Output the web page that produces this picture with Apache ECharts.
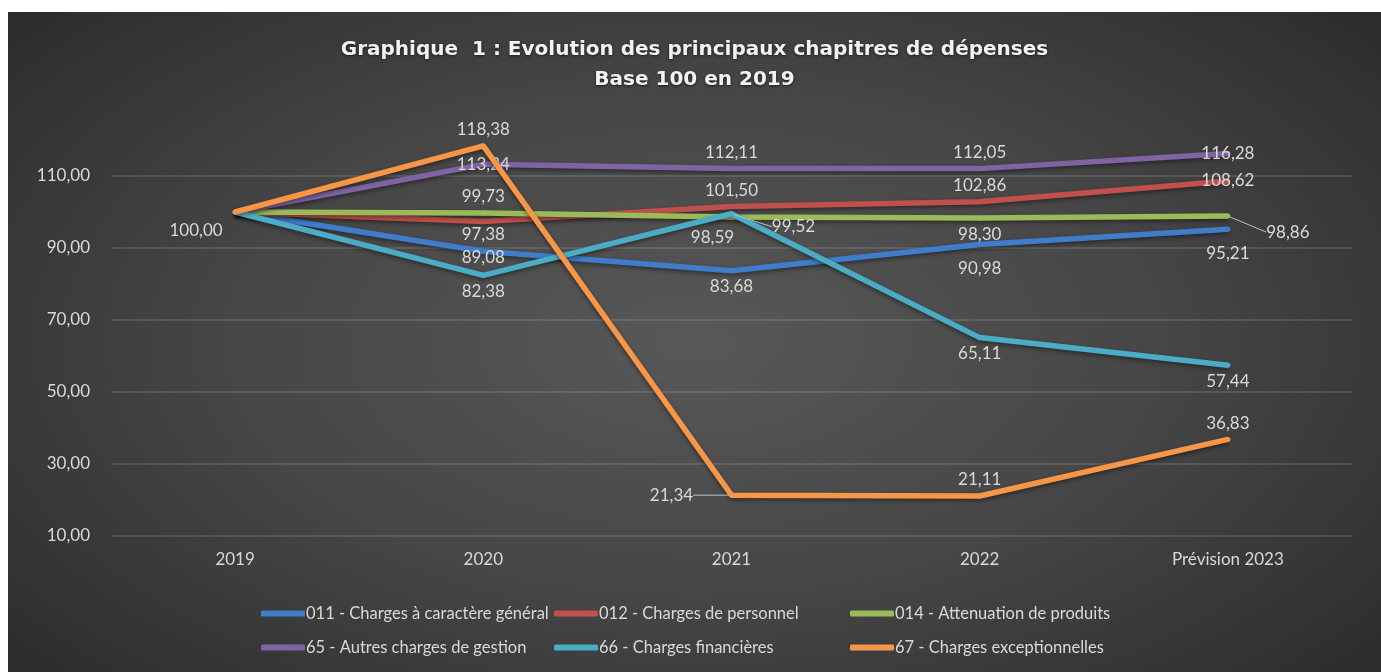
<!DOCTYPE html>
<html>
<head>
<meta charset="utf-8">
<script src="https://cdn.jsdelivr.net/npm/echarts@6/dist/echarts.min.js"></script>
<style>
  html, body { margin: 0; padding: 0; background: #ffffff; width: 1381px; height: 672px; overflow: hidden; }
  #chart {
    position: absolute; left: 8px; top: 12px; width: 1373px; height: 660px;
    background: radial-gradient(ellipse 75% 85% at 50% 50%, #585858 0%, #464646 45%, #2e2e2e 85%, #262626 100%);
  }
</style>
</head>
<body>
<div id="chart"></div>
<script>
const categories = ['2019', '2020', '2021', '2022', 'Prévision 2023'];
const seriesNames = [
  '011 - Charges à caractère général',
  '012 - Charges de personnel',
  '014 - Attenuation de produits',
  '65 - Autres charges de gestion',
  '66 - Charges financières',
  '67 - Charges exceptionnelles'
];
const s011 = [100.00, 89.08, 83.68, 90.98, 95.21];
const s012 = [100.00, 97.38, 101.50, 102.86, 108.62];
const s014 = [100.00, 99.73, 98.59, 98.30, 98.86];
const s65  = [100.00, 113.24, 112.11, 112.05, 116.28];
const s66  = [100.00, 82.38, 99.52, 65.11, 57.44];
const s67  = [100.00, 118.38, 21.34, 21.11, 36.83];
const yTicks = [10, 30, 50, 70, 90, 110];
const titleLines = ['Graphique  1 : Evolution des principaux chapitres de dépenses', 'Base 100 en 2019'];

const allValues = [s011, s012, s014, s65, s66, s67];
const colors = ['#3F7DC9', '#C0504D', '#9BBB59', '#8064A2', '#4BACC6', '#F79646'];

// label placement per series / point (null = no label)
const labelPos = [
  [null, 'inside', 'bottom', 'bottomLow', 'bottomLow'],
  [null, 'bottom', 'top', 'top', 'inside'],
  [null, 'top', 'bottom', 'bottom', 'leader'],
  [null, 'inside', 'top', 'top', 'inside'],
  [null, 'bottom', 'leader', 'bottom', 'bottom'],
  ['left', 'top', 'leader', 'top', 'top']
];
// label nudges (pixels) : key "series_point"
const labelMoves = {
  '0_1': [0, 6], '1_1': [0, -3], '2_2': [-19, 4], '5_0': [0, 19],
  '2_4': [60, 16], '4_2': [62, 13], '5_2': [-60, 0]
};

const FONT = 'Lato, "Liberation Sans", sans-serif';
const fmt = v => v.toFixed(2).replace('.', ',');
const labelBase = { color: '#d9d9d9', fontSize: 17, fontFamily: FONT, formatter: p => fmt(p.value) };

function buildData(si) {
  return allValues[si].map((v, i) => {
    const pos = labelPos[si][i];
    if (!pos) return { value: v, label: { show: false } };
    const item = { value: v, label: { show: true } };
    if (pos === 'bottomLow') { item.label.position = 'bottom'; item.label.padding = [8, 0, 0, 0]; }
    else if (pos === 'leader') { item.label.position = 'inside'; item.labelLine = { show: true }; }
    else if (pos === 'left') { item.label.position = 'left'; item.label.distance = 10; }
    else item.label.position = pos;
    return item;
  });
}

const series = seriesNames.map((name, si) => ({
  name: name,
  type: 'line',
  data: buildData(si),
  symbol: 'circle',
  symbolSize: 5,
  showSymbol: true,
  clip: false,
  z: 2 + si,
  lineStyle: { width: 5.5, color: colors[si], shadowColor: 'rgba(0,0,0,0.45)', shadowBlur: 4, shadowOffsetY: 2 },
  itemStyle: { color: colors[si] },
  label: Object.assign({}, labelBase),
  labelLine: { show: false, lineStyle: { color: '#bfbfbf', width: 1 } },
  labelLayout: params => {
    const m = labelMoves[params.seriesIndex + '_' + params.dataIndex];
    if (m) return { dx: m[0], dy: m[1] };
    return {};
  },
  emphasis: { disabled: true }
}));

const legendCols = [261, 554, 850];
const legendRows = [614, 648];
const legends = seriesNames.map((name, si) => ({
  data: [name],
  left: legendCols[si % 3] - 8,
  top: legendRows[Math.floor(si / 3)] - 12 - 9,
  padding: 0,
  icon: 'roundRect',
  itemWidth: 44,
  itemHeight: 6,
  itemGap: 0,
  selectedMode: false,
  textStyle: { color: '#d9d9d9', fontSize: 16.5, fontFamily: FONT, padding: [0, 0, 0, -4] }
}));

const chart = echarts.init(document.getElementById('chart'), null, { renderer: 'canvas' });
chart.setOption({
  animation: false,
  backgroundColor: 'transparent',
  color: colors,
  title: {
    text: titleLines.join('\n'),
    left: 'center',
    top: 18,
    textStyle: {
      color: '#f2f2f2', fontSize: 20, fontWeight: 'bold', fontFamily: '"DejaVu Sans", sans-serif',
      lineHeight: 30, textShadowColor: 'rgba(0,0,0,0.6)', textShadowBlur: 3, textShadowOffsetY: 1
    }
  },
  legend: legends,
  grid: { left: 103, right: 29, top: 164, bottom: 136, containLabel: false },
  xAxis: {
    type: 'category',
    data: categories,
    boundaryGap: true,
    axisLine: { show: false },
    axisTick: { show: false },
    axisLabel: { color: '#d9d9d9', fontSize: 17, fontFamily: FONT, margin: 15 }
  },
  yAxis: {
    type: 'value',
    min: yTicks[0],
    max: yTicks[yTicks.length - 1],
    interval: yTicks[1] - yTicks[0],
    axisLine: { show: false },
    axisTick: { show: false },
    axisLabel: { color: '#d9d9d9', fontSize: 17, fontFamily: FONT, margin: 21, formatter: v => fmt(v) },
    splitLine: { lineStyle: { color: 'rgba(255,255,255,0.16)', width: 1.5 } }
  },
  series: series
});
</script>
</body>
</html>
